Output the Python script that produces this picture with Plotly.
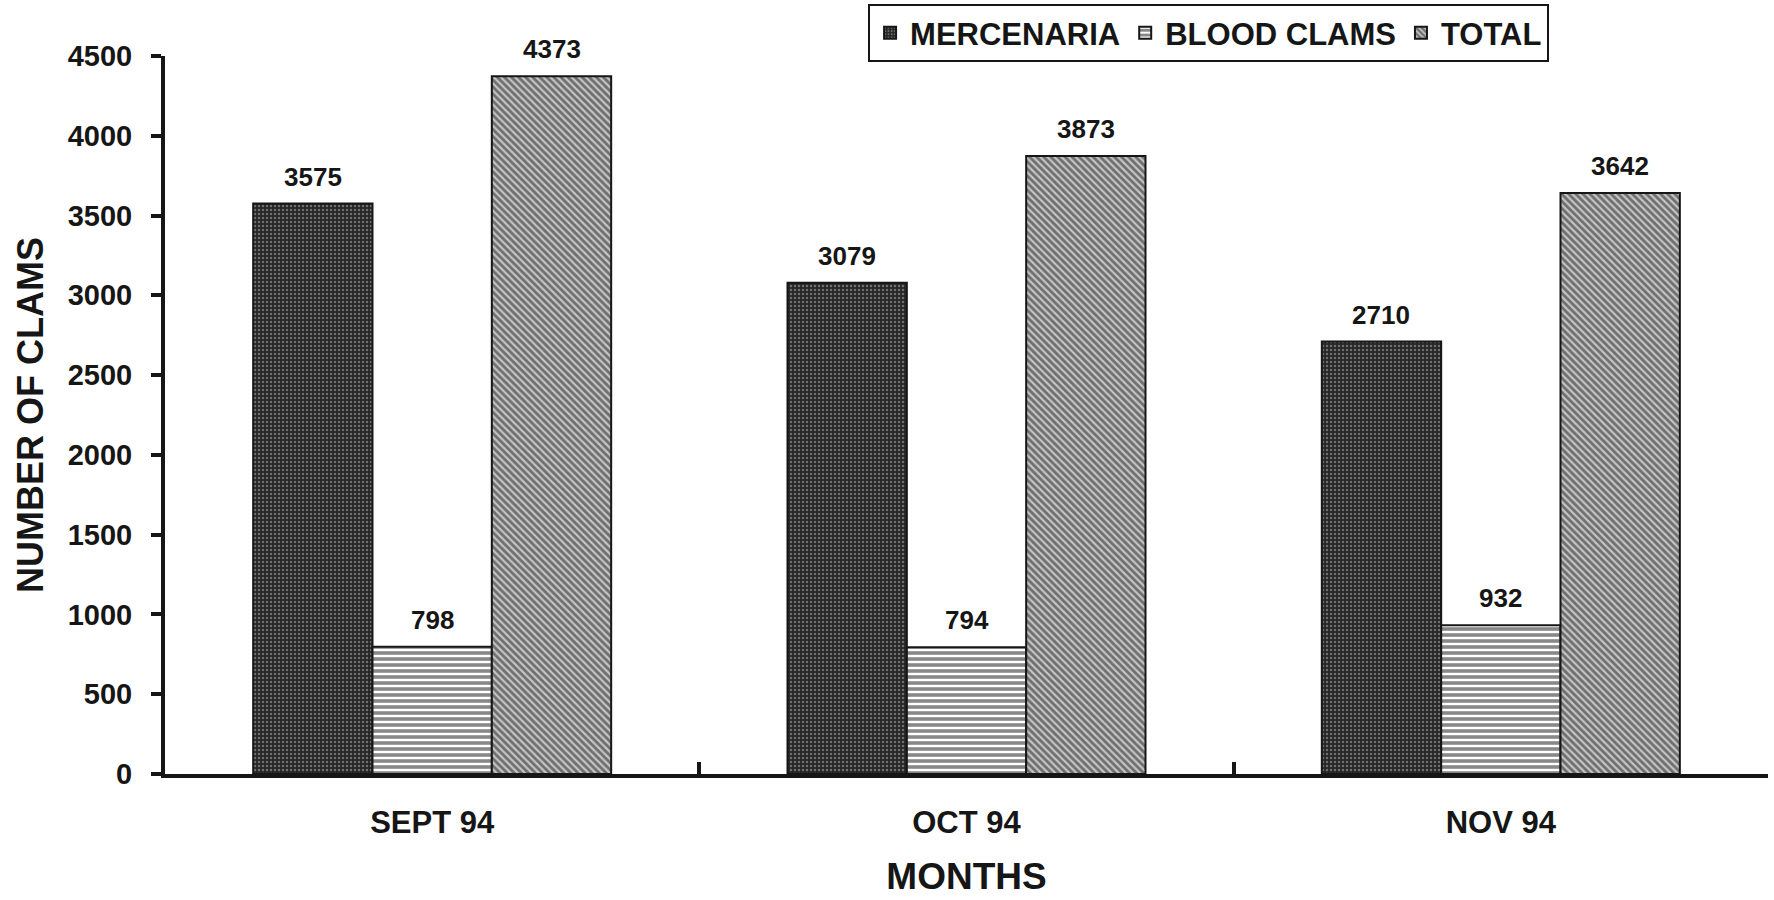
import plotly.graph_objects as go

# Monthly clam counts
months = ["SEPT 94", "OCT 94", "NOV 94"]
mercenaria = [3575, 3079, 2710]
blood_clams = [798, 794, 932]
total = [4373, 3873, 3642]
y_ticks = [0, 500, 1000, 1500, 2000, 2500, 3000, 3500, 4000, 4500]

FONT = "Liberation Sans, Arial, sans-serif"
INK = "#161616"

series = [
    ("MERCENARIA", mercenaria, dict(shape=".", bgcolor="#262626", fgcolor="#b8b8b8", size=4, solidity=0.3)),
    ("BLOOD CLAMS", blood_clams, dict(shape="-", bgcolor="#ffffff", fgcolor="#111111", size=6, solidity=0.6)),
    ("TOTAL", total, dict(shape="\\", bgcolor="#c4c4c4", fgcolor="#181818", size=5, solidity=0.55)),
]

fig = go.Figure()
for name, vals, pat in series:
    fig.add_trace(go.Bar(
        name=name, x=months, y=vals,
        marker=dict(color=pat["bgcolor"], pattern=pat,
                    line=dict(color=INK, width=2)),
    ))

# value labels above each bar, shifted to the bar's slot within its group
plot_left, plot_right = 165, 1768
cat_px = (plot_right - plot_left) / len(months)
bar_px = cat_px * (1 - 0.33) / len(series)
for i, (name, vals, _) in enumerate(series):
    shift = (i - (len(series) - 1) / 2) * bar_px
    for m, v in zip(months, vals):
        fig.add_annotation(
            x=m, y=v, text=str(v), showarrow=False,
            xanchor="center", yanchor="bottom", xshift=shift, yshift=10,
            font=dict(family=FONT, size=26, color=INK, weight="bold"),
        )

fig.update_layout(
    width=1774, height=900, autosize=False,
    margin=dict(l=plot_left, r=1774 - plot_right, t=56, b=126, autoexpand=False),
    paper_bgcolor="white", plot_bgcolor="white",
    barmode="group", bargap=0.33, bargroupgap=0,
    showlegend=True,
    legend=dict(
        orientation="h", x=0.4386, y=1.0724, xanchor="left", yanchor="top",
        bordercolor=INK, borderwidth=2, bgcolor="white",
        font=dict(family=FONT, size=31, color=INK, weight="bold"),
    ),
    font=dict(family=FONT, color=INK),
)

fig.update_xaxes(
    type="category", range=[-0.5, 2.5],
    showline=True, linecolor=INK, linewidth=4,
    ticks="inside", tickson="boundaries", ticklen=12, tickwidth=4, tickcolor=INK,
    tickfont=dict(family=FONT, size=31, color=INK, weight="bold"),
    ticklabelstandoff=18,
    title=dict(text="MONTHS", font=dict(family=FONT, size=37, color=INK, weight="bold"), standoff=25),
    showgrid=False, zeroline=False,
)
fig.update_yaxes(
    range=[0, 4500], tickvals=y_ticks, ticktext=[str(t) for t in y_ticks],
    showline=True, linecolor=INK, linewidth=4,
    ticks="outside", ticklen=10, tickwidth=4, tickcolor=INK,
    tickfont=dict(family=FONT, size=29, color=INK, weight="bold"),
    ticklabelstandoff=13,
    title=dict(text="NUMBER OF CLAMS", font=dict(family=FONT, size=36, color=INK, weight="bold"), standoff=14),
    showgrid=False, zeroline=False,
)

fig.write_html("out.html")
